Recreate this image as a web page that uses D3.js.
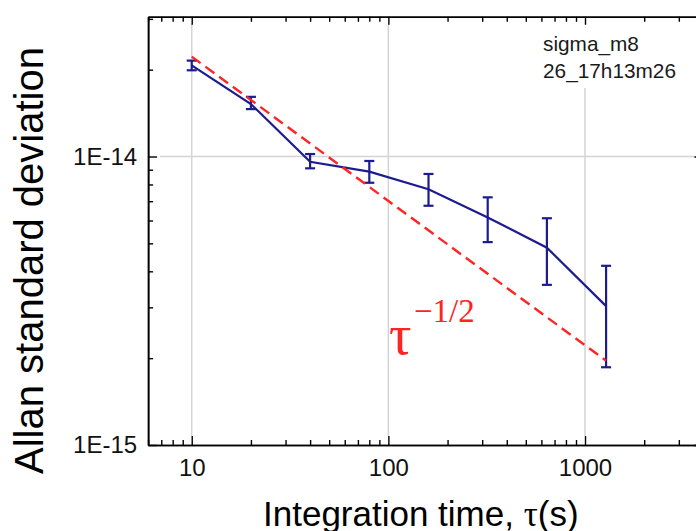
<!DOCTYPE html>
<html>
<head>
<meta charset="utf-8">
<script src="https://cdn.jsdelivr.net/npm/d3@7"></script>
<style>
  html, body { margin: 0; padding: 0; background: #fff; }
  svg { display: block; font-family: "Liberation Sans", Arial, sans-serif; }
</style>
</head>
<body>
<svg id="chart" width="696" height="531"></svg>
<script>
// Averaging times (s)
const tau = [10, 20, 40, 80, 160, 320, 640, 1280];
// Allan deviation and its error-bar limits
const sigma   = [2.07e-14, 1.52e-14, 9.59e-15, 8.86e-15, 7.70e-15, 6.15e-15, 4.83e-15, 3.03e-15];
const errLow  = [1.99e-14, 1.46e-14, 9.10e-15, 8.11e-15, 6.75e-15, 5.05e-15, 3.59e-15, 1.86e-15];
const errHigh = [2.15e-14, 1.61e-14, 1.02e-14, 9.65e-15, 8.70e-15, 7.22e-15, 6.11e-15, 4.18e-15];
// White-frequency-noise reference line (tau^-1/2)
const refTau   = [10, 1280];
const refSigma = [2.22e-14, 1.96e-15];
// Axis ticks
const xMajor = [10, 100, 1000];
const xTickLabels = ["10", "100", "1000"];
const xMinor = [6, 7, 8, 9, 20, 30, 40, 50, 60, 70, 80, 90, 200, 300, 400, 500, 600, 700, 800, 900, 2000, 3000];
const yMajor = [1e-15, 1e-14];
const yTickLabels = ["1E-15", "1E-14"];
const yMinor = [2e-15, 3e-15, 4e-15, 5e-15, 6e-15, 7e-15, 8e-15, 9e-15, 2e-14, 3e-14];
const runName = ["sigma_m8", "26_17h13m26"];

const svg = d3.select("#chart");
const L = 148.1, R = 703.4, T = 16.8, B = 445;
const x = d3.scaleLog().domain([6, 4000]).range([L, R]);
const y = d3.scaleLog().domain([1e-15, 3.05e-14]).range([B, T]);

const navy = "#1c1c8e";
const red = "#ff2424";

// Grid lines at the major decades
const grid = svg.append("g").attr("stroke", "#d4d4d4").attr("stroke-width", 1.5);
grid.selectAll("line.gx").data(xMajor).join("line")
  .attr("x1", d => x(d)).attr("x2", d => x(d))
  .attr("y1", T + 7).attr("y2", B - 9);
grid.selectAll("line.gy").data([1e-14]).join("line")
  .attr("x1", L + 12).attr("x2", R - 9)
  .attr("y1", d => y(d)).attr("y2", d => y(d));

// Run name box (opaque, hides the grid behind it)
svg.append("rect").attr("x", 538).attr("y", 24).attr("width", 154).attr("height", 64).attr("fill", "#fff");
svg.append("g").attr("font-size", 20.8).attr("fill", "#1a1a1a")
  .selectAll("text").data(runName).join("text")
  .attr("x", 543).attr("y", (d, i) => 51 + i * 27.3).text(d => d);

// Axes: ticks point inward
function styleAxis(g) {
  g.selectAll(".domain").attr("stroke", "#000").attr("stroke-width", 1.6);
  g.selectAll(".tick line").attr("stroke", "#000").attr("stroke-width", 1.4);
  g.selectAll(".tick text").attr("font-size", 24).attr("fill", "#111")
    .attr("font-family", "'Liberation Sans', Arial, sans-serif");
}
const xLabelFmt = d => xTickLabels[xMajor.indexOf(d)];
const yLabelFmt = d => yTickLabels[yMajor.indexOf(d)];

svg.append("g").attr("transform", `translate(0,${B})`)
  .call(d3.axisBottom(x).tickValues(xMajor).tickFormat(xLabelFmt).tickSize(-9).tickPadding(14).tickSizeOuter(0))
  .call(styleAxis);
svg.append("g").attr("transform", `translate(0,${B})`)
  .call(d3.axisBottom(x).tickValues(xMinor).tickFormat("").tickSize(-5).tickSizeOuter(0))
  .call(styleAxis);
svg.append("g").attr("transform", `translate(0,${T})`)
  .call(d3.axisTop(x).tickValues(xMajor).tickFormat("").tickSize(-8).tickSizeOuter(0))
  .call(styleAxis);
svg.append("g").attr("transform", `translate(0,${T})`)
  .call(d3.axisTop(x).tickValues(xMinor).tickFormat("").tickSize(-5).tickSizeOuter(0))
  .call(styleAxis);
svg.append("g").attr("transform", `translate(${L},0)`)
  .call(d3.axisLeft(y).tickValues(yMajor).tickFormat(yLabelFmt).tickSize(-9).tickPadding(11).tickSizeOuter(0))
  .call(styleAxis);
svg.append("g").attr("transform", `translate(${L},0)`)
  .call(d3.axisLeft(y).tickValues(yMinor).tickFormat("").tickSize(-5).tickSizeOuter(0))
  .call(styleAxis);
svg.append("g").attr("transform", `translate(${R},0)`)
  .call(d3.axisRight(y).tickValues(yMajor).tickFormat("").tickSize(-9).tickSizeOuter(0))
  .call(styleAxis);

// Measured Allan deviation
const pts = tau.map((t, i) => ({t, s: sigma[i], lo: errLow[i], hi: errHigh[i]}));
svg.append("path").datum(pts)
  .attr("fill", "none").attr("stroke", navy).attr("stroke-width", 2.2)
  .attr("d", d3.line().x(d => x(d.t)).y(d => y(d.s)));
const eb = svg.append("g").attr("stroke", navy).attr("stroke-width", 2.2);
eb.selectAll("line.v").data(pts).join("line")
  .attr("x1", d => x(d.t)).attr("x2", d => x(d.t))
  .attr("y1", d => y(d.lo)).attr("y2", d => y(d.hi));
eb.selectAll("line.lo").data(pts).join("line")
  .attr("x1", d => x(d.t) - 5).attr("x2", d => x(d.t) + 5)
  .attr("y1", d => y(d.lo)).attr("y2", d => y(d.lo));
eb.selectAll("line.hi").data(pts).join("line")
  .attr("x1", d => x(d.t) - 5).attr("x2", d => x(d.t) + 5)
  .attr("y1", d => y(d.hi)).attr("y2", d => y(d.hi));

// tau^-1/2 guide
svg.append("path").datum(refTau.map((t, i) => ({t, s: refSigma[i]})))
  .attr("fill", "none").attr("stroke", red).attr("stroke-width", 2.4)
  .attr("stroke-dasharray", "11,6")
  .attr("d", d3.line().x(d => x(d.t)).y(d => y(d.s)));

const slope = svg.append("text").attr("fill", red)
  .attr("font-family", "'Liberation Serif', 'Times New Roman', serif");
slope.append("tspan").attr("x", 389).attr("y", 354).attr("font-size", 56).text("τ");
slope.append("tspan").attr("x", 414).attr("y", 322).attr("font-size", 33).text("−1/2");

// Axis titles
const xt = svg.append("text").attr("x", 263).attr("y", 526).attr("font-size", 35).attr("fill", "#000");
xt.append("tspan").text("Integration time, ");
xt.append("tspan").attr("font-family", "'Liberation Serif', 'Times New Roman', serif").text("τ");
xt.append("tspan").text("(s)");

svg.append("text").attr("transform", "translate(43,474) rotate(-90)")
  .attr("font-size", 40).attr("fill", "#000").text("Allan standard deviation");
</script>
</body>
</html>
